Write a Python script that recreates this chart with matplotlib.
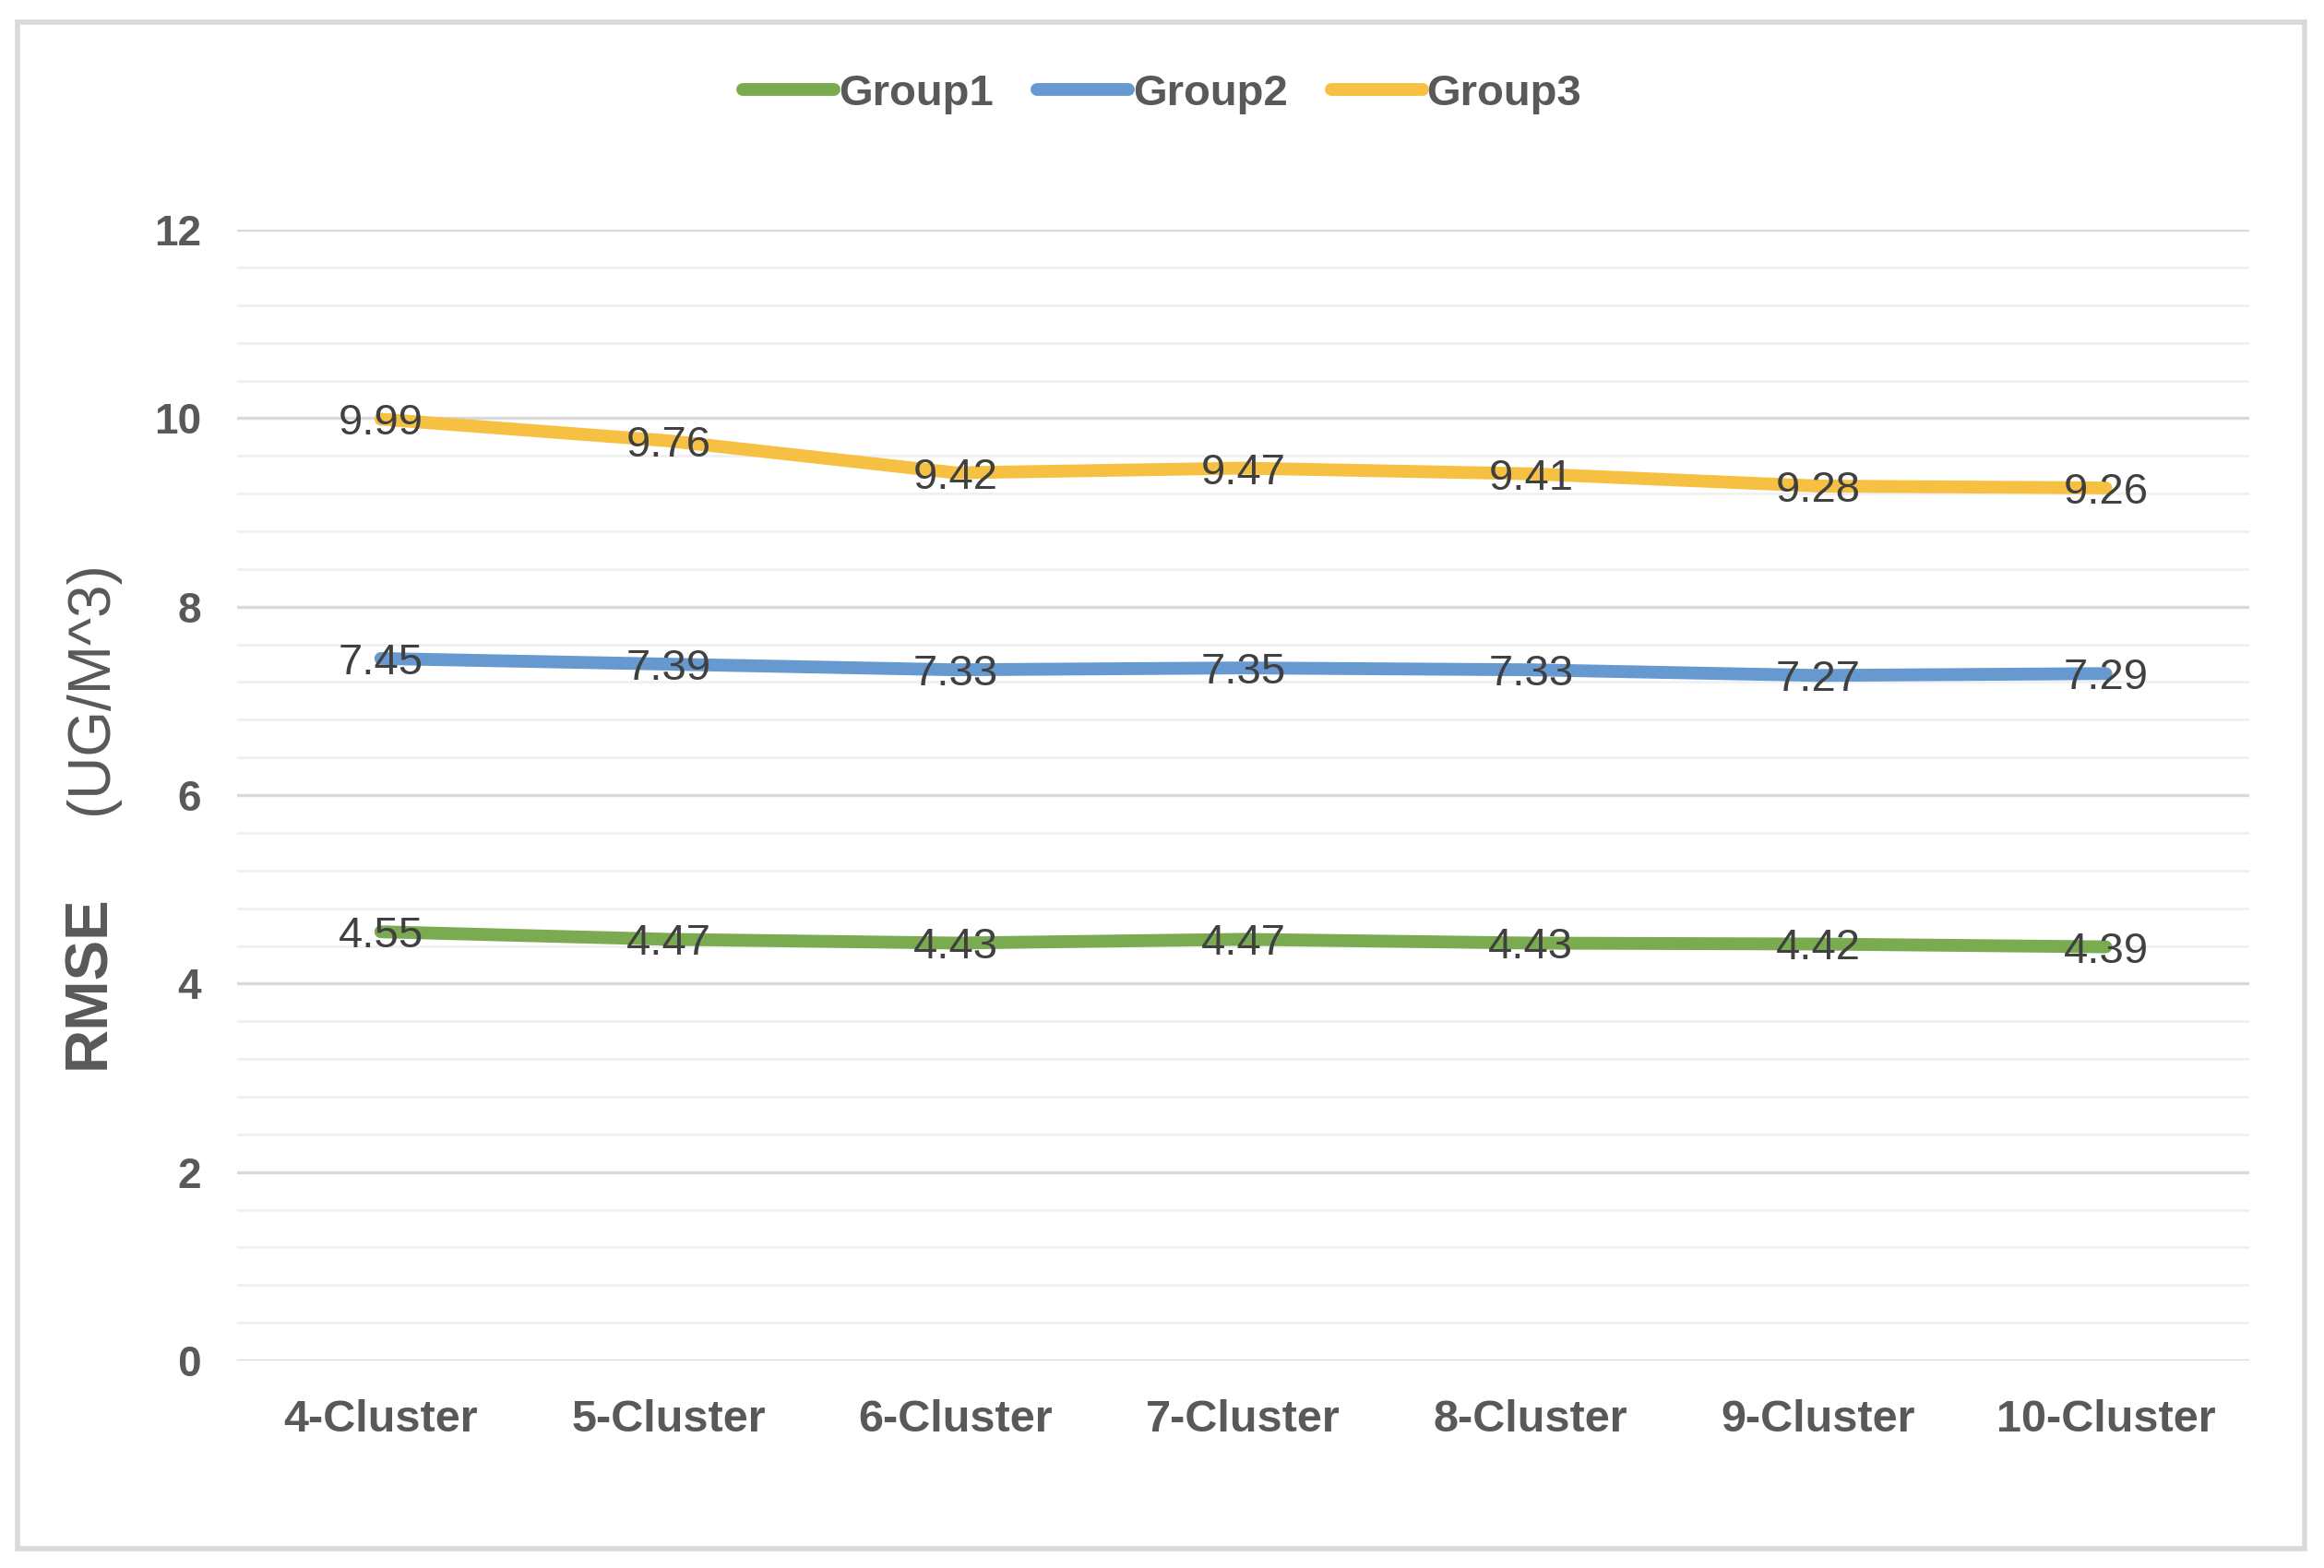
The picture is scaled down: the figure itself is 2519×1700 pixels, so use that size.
import matplotlib
matplotlib.use("Agg")
import matplotlib.pyplot as plt
from matplotlib.patches import Rectangle
import numpy as np

categories = ["4-Cluster", "5-Cluster", "6-Cluster", "7-Cluster", "8-Cluster", "9-Cluster", "10-Cluster"]
series_names = ["Group1", "Group2", "Group3"]
group1 = [4.55, 4.47, 4.43, 4.47, 4.43, 4.42, 4.39]
group2 = [7.45, 7.39, 7.33, 7.35, 7.33, 7.27, 7.29]
group3 = [9.99, 9.76, 9.42, 9.47, 9.41, 9.28, 9.26]
colors = ["#7AAB50", "#6699D0", "#F6C142"]
y_ticks = [0, 2, 4, 6, 8, 10, 12]

plt.rcParams['font.family'] = ['Liberation Sans', 'DejaVu Sans']

fig = plt.figure(figsize=(25.19, 17.0), dpi=100)
ax = fig.add_axes([0.102, 0.1323, 0.866, 0.7212])

x = np.arange(len(categories))
for vals, name, c in zip([group1, group2, group3], series_names, colors):
    ax.plot(x, vals, color=c, lw=10, label=name, solid_capstyle='round',
            solid_joinstyle='round', zorder=3)
    for xi, v in zip(x, vals):
        ax.text(xi, v, f"{v:.2f}", ha='center', va='center_baseline', fontsize=34,
                color='#404040', zorder=4)

ax.set_xlim(-0.5, len(categories) - 0.5)
ax.set_ylim(0, 12)
ax.set_yticks(y_ticks)
ax.set_yticks(np.arange(0, 12.01, 0.4), minor=True)
ax.grid(axis='y', which='major', color='#D9D9D9', lw=2.4, zorder=1)
ax.grid(axis='y', which='minor', color='#F0F0F0', lw=2.0, zorder=0)
ax.set_axisbelow(True)
for s in ax.spines.values():
    s.set_visible(False)
ax.tick_params(axis='both', which='both', length=0)
ax.tick_params(axis='y', pad=28, labelsize=33, labelcolor='#595959')
ax.tick_params(axis='x', pad=30, labelsize=35, labelcolor='#595959')
ax.set_xticks(x)
ax.set_xticklabels(categories, fontweight='bold')
for t in ax.get_yticklabels():
    t.set_fontweight('bold')

leg = fig.legend(loc='center', bbox_to_anchor=(0.5, 0.940), ncol=3, frameon=False,
                 fontsize=34, handlelength=2.1, handletextpad=0.1, columnspacing=1.0)
for t in leg.get_texts():
    t.set_color('#595959')
    t.set_fontweight('bold')

fig.text(0.0381, 0.374, "RMSE", rotation=90, ha='center', va='center',
         fontsize=47, fontweight='bold', color='#595959')
fig.text(0.0393, 0.5612, "(UG/M^3)", rotation=90, ha='center', va='center',
         fontsize=46, color='#595959')

fig.patches.append(Rectangle((0.0077, 0.0123), 0.984, 0.9735, transform=fig.transFigure,
                             fill=False, edgecolor='#D9D9D9', lw=4))

fig.savefig("out.png", dpi=100)
